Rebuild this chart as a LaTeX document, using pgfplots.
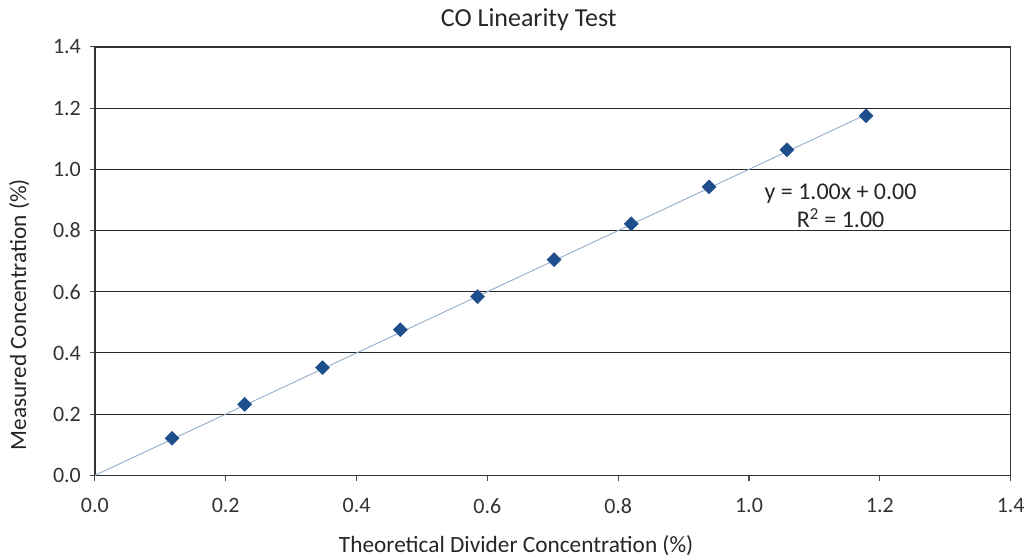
\documentclass[border=0pt]{standalone}
\usepackage{pgfplots}
\pgfplotsset{compat=1.18}
\usepackage{fontspec}
\setmainfont{Carlito}
\definecolor{mark}{RGB}{31,78,140}
\definecolor{trend}{RGB}{150,175,205}
\begin{document}
\begin{tikzpicture}
\begin{axis}[
  name=ax,
  scale only axis,
  width=687.75pt, height=321.75pt,
  xmin=0, xmax=1.4, ymin=0, ymax=1.4,
  xtick={0,0.2,...,1.4}, ytick={0,0.2,...,1.4},
  /pgf/number format/.cd, fixed, fixed zerofill, precision=1, assume math mode=true,
  /pgfplots/.cd,
  tick align=outside,
  major tick length=4pt,
  xtick pos=bottom, ytick pos=left,
  ymajorgrids,
  grid style={black!85, line width=0.8pt},
  axis line style={black!80, line width=1pt},
  tick style={black!70, line width=0.8pt},
  ticklabel style={font=\fontsize{16.5}{16.5}\selectfont, text=black!80},
  xticklabel style={yshift=-10pt},
  yticklabel style={xshift=-3pt},
  xlabel={Theoretical Divider Concentration (\%)},
  ylabel={Measured Concentration (\%)},
  label style={font=\fontsize{17.5}{17.5}\selectfont, text=black!85},
  xlabel style={at={(ticklabel cs:0.46)}, yshift=-9pt},
  ylabel style={at={(ticklabel cs:0.375,11pt)}},
  title={CO Linearity Test},
  title style={font=\fontsize{19.5}{19.5}\selectfont, text=black!85, yshift=3pt, xshift=-18pt},
  clip=false,
]
\addplot[trend, line width=0.7pt, forget plot] coordinates {(0,0) (1.179,1.179)};
\addplot[only marks, mark=square*, mark size=3.7pt, mark options={rotate=45, fill=mark, draw=mark}] coordinates {
(0.118,0.121) (0.229,0.232) (0.348,0.352) (0.467,0.476) (0.585,0.584)
(0.702,0.705) (0.820,0.822) (0.939,0.943) (1.058,1.064) (1.179,1.175)
};
\node[align=center, font=\fontsize{18}{21}\selectfont, text=black!85] at (axis cs:1.14,0.88) {y = 1.00x + 0.00\\R\textsuperscript{2} = 1.00};
\end{axis}
\path ([xshift=-71.25pt,yshift=-60.75pt]ax.south west) rectangle ([xshift=12.75pt,yshift=35.25pt]ax.north east);
\end{tikzpicture}
\end{document}
